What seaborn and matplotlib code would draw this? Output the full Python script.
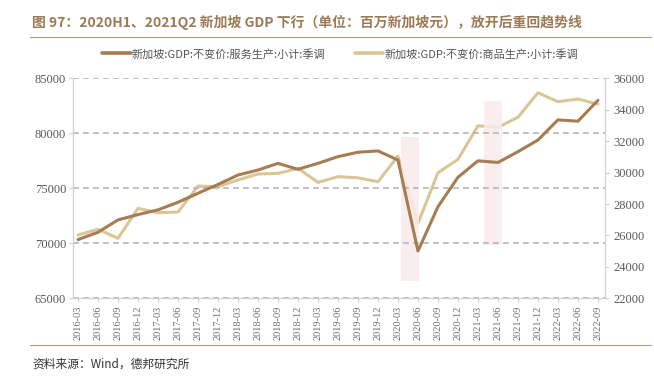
import numpy as np
import pandas as pd
import matplotlib
matplotlib.use("Agg")
import matplotlib.pyplot as plt
import seaborn as sns
from matplotlib.lines import Line2D

quarters = ["2016-03", "2016-06", "2016-09", "2016-12", "2017-03", "2017-06", "2017-09",
            "2017-12", "2018-03", "2018-06", "2018-09", "2018-12", "2019-03", "2019-06",
            "2019-09", "2019-12", "2020-03", "2020-06", "2020-09", "2020-12", "2021-03",
            "2021-06", "2021-09", "2021-12", "2022-03", "2022-06", "2022-09"]

services = [70340, 71000, 72130, 72610, 73040, 73730, 74550, 75350, 76210, 76660,
            77270, 76730, 77270, 77880, 78280, 78400, 77570, 69300, 73330, 76000,
            77500, 77350, 78330, 79390, 81220, 81100, 83000]

goods = [26030, 26390, 25820, 27720, 27450, 27490, 29140, 29100, 29530, 29910,
         29950, 30270, 29380, 29740, 29670, 29420, 31050, 26770, 29990, 30840,
         32980, 32880, 33520, 35080, 34510, 34680, 34360]

series_names = ["新加坡:GDP:不变价:服务生产:小计:季调", "新加坡:GDP:不变价:商品生产:小计:季调"]
title = "图 97：2020H1、2021Q2 新加坡 GDP 下行（单位：百万新加坡元），放开后重回趋势线"
source = "资料来源：Wind，德邦研究所"

left_ticks = [65000, 70000, 75000, 80000, 85000]
right_ticks = [22000, 24000, 26000, 28000, 30000, 32000, 34000, 36000]

# shaded periods: (x start, x end, y bottom, y top) on the left axis
shade_periods = [(16.15, 17.05, 66600, 79700), (20.3, 21.2, 69850, 82940)]

df = pd.DataFrame({"idx": np.arange(len(quarters)), "quarter": quarters,
                   "services": services, "goods": goods})

sns.set_theme(style="white")
plt.rcParams["font.family"] = ["Noto Sans CJK SC", "DejaVu Sans"]

c_serv = "#a67c52"
c_goods = "#d9c697"
c_tick = "#595959"
c_axis = "#d0d0d0"

fig = plt.figure(figsize=(6.54, 3.77), dpi=100)
ax = fig.add_axes([0.1116, 0.2087, 0.8134, 0.5836])
ax2 = ax.twinx()
ax2.set_zorder(0)
ax.set_zorder(1)
ax.patch.set_visible(False)

for x0, x1, y0, y1 in shade_periods:
    ax.fill_between([x0, x1], y0, y1, color="#f9ecea", alpha=0.85, lw=0, zorder=0)

sns.lineplot(data=df, x="idx", y="services", ax=ax, color=c_serv, lw=2.2, zorder=3)
sns.lineplot(data=df, x="idx", y="goods", ax=ax2, color=c_goods, lw=2.2, zorder=3)

ax.set_ylim(65000, 85000)
ax2.set_ylim(22000, 36000)
ax.set_xlim(-0.25, 26.35)
ax.set_yticks(left_ticks)
ax2.set_yticks(right_ticks)
ax.set_xticks(df["idx"])
ax.set_xticklabels(quarters, rotation=90, family="Liberation Serif", fontsize=7.5, color="#6e6e6e")
for t in ax.get_yticklabels():
    t.set_family("Liberation Serif"); t.set_fontsize(9); t.set_color(c_tick)
for t in ax2.get_yticklabels():
    t.set_family("Liberation Serif"); t.set_fontsize(9); t.set_color(c_tick)
ax.set_xlabel(""); ax.set_ylabel(""); ax2.set_ylabel("")

ax2.grid(False)
ax.grid(False)
ax.yaxis.grid(True, color="#b5b5b5", linewidth=1.2, linestyle=(0, (3.5, 2.5)))
ax.set_axisbelow(True)

for a in (ax, ax2):
    a.spines["top"].set_visible(False)
    for s in ["left", "right", "bottom"]:
        a.spines[s].set_color(c_axis)
        a.spines[s].set_linewidth(0.8)
ax.tick_params(axis="both", which="both", length=3, width=0.8, color=c_axis, pad=2, direction="out", left=True, bottom=True)
ax2.tick_params(axis="y", length=3, width=0.8, color=c_axis, pad=3, direction="out", right=True)

handles = [Line2D([0], [0], color=c_serv, lw=2.6), Line2D([0], [0], color=c_goods, lw=2.6)]
fig.legend(handles, series_names, loc="center", bbox_to_anchor=(0.52, 0.857), ncol=2,
           frameon=False, fontsize=8, handlelength=2.6, handletextpad=0.1, columnspacing=2.6,
           labelcolor="#555555")

fig.text(0.049, 0.94, title, fontsize=10, fontweight="bold", color="#9c7a56", va="center", ha="left")
fig.add_artist(Line2D([0.046, 0.995], [0.902, 0.902], color="#b8987a", lw=0.8, transform=fig.transFigure))
fig.add_artist(Line2D([0.046, 0.995], [0.085, 0.085], color="#b8987a", lw=0.8, transform=fig.transFigure))
fig.text(0.049, 0.035, source, fontsize=8.5, color="#333333", va="center", ha="left")

fig.savefig("out.png", dpi=100)
